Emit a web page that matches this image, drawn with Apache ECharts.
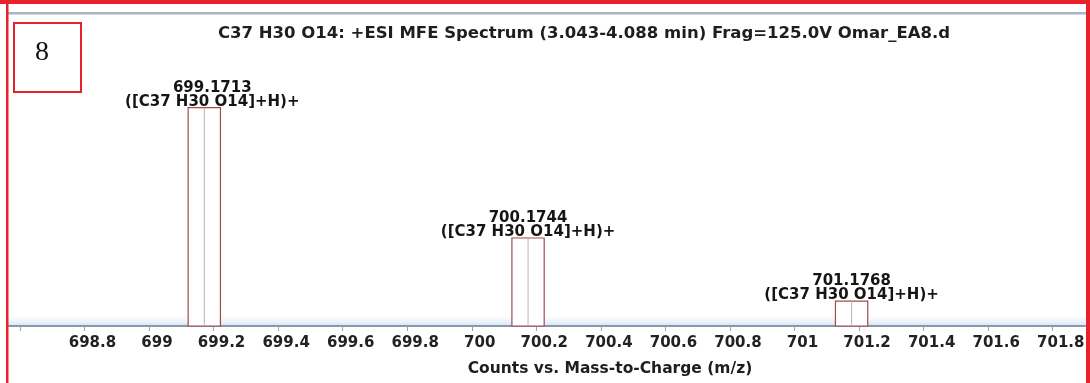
<!DOCTYPE html>
<html>
<head>
<meta charset="utf-8">
<title>C37 H30 O14 spectrum</title>
<script src="https://cdn.jsdelivr.net/npm/echarts@6.0.0/dist/echarts.min.js"></script>
<style>
html, body { margin: 0; padding: 0; background: #fff; }
#chart { width: 1090px; height: 383px; }
</style>
</head>
<body>
<div id="chart"></div>
<script>
// 峰数据 (m/z, 相对强度)
var peakMz = [699.1713, 700.1744, 701.1768];
var peakCounts = [100, 40.3, 11.4];
var peakIons = ['([C37 H30 O14]+H)+', '([C37 H30 O14]+H)+', '([C37 H30 O14]+H)+'];
// 刻度
var tickValues = [698.6, 698.8, 699, 699.2, 699.4, 699.6, 699.8, 700, 700.2, 700.4, 700.6, 700.8, 701, 701.2, 701.4, 701.6, 701.8];
var tickLabels = [698.8, 699, 699.2, 699.4, 699.6, 699.8, 700, 700.2, 700.4, 700.6, 700.8, 701, 701.2, 701.4, 701.6, 701.8];

var titleText = 'C37 H30 O14: +ESI MFE Spectrum (3.043-4.088 min) Frag=125.0V Omar_EA8.d';
var axisTitle = 'Counts vs. Mass-to-Charge (m/z)';
var panelNo = '8';

var halfWidth = 0.05; // 峰框半宽 (m/z)
var boldFont = 'bold 15px "DejaVu Sans"';

var seriesData = [];
for (var i = 0; i < peakMz.length; i++) {
    seriesData.push([peakMz[i], peakCounts[i], i]);
}

function renderPeak(params, api) {
    var x = api.value(0);
    var y = api.value(1);
    var idx = api.value(2);
    var tl = api.coord([x - halfWidth, y]);
    var br = api.coord([x + halfWidth, 0]);
    var c = api.coord([x, y]);
    var label = peakMz[idx].toFixed(4) + '\n' + peakIons[idx];
    return {
        type: 'group',
        children: [
            {
                type: 'rect',
                shape: { x: tl[0], y: tl[1], width: br[0] - tl[0], height: br[1] - tl[1] },
                style: { fill: '#ffffff', stroke: '#a24b4d', lineWidth: 1.2 }
            },
            {
                type: 'line',
                shape: { x1: c[0], y1: c[1], x2: c[0], y2: br[1] },
                style: { stroke: '#b5b5b5', lineWidth: 1 }
            },
            {
                type: 'text',
                x: c[0] + (idx === 0 ? 8 : 0),
                y: c[1] + 1,
                style: {
                    text: label,
                    font: boldFont,
                    fill: '#151515',
                    align: 'center',
                    verticalAlign: 'bottom',
                    lineHeight: 14
                }
            }
        ]
    };
}

var myChart = echarts.init(document.getElementById('chart'));
var option = {
    backgroundColor: '#ffffff',
    animation: false,
    title: [
        {
            text: titleText,
            left: 579,
            top: 20,
            textAlign: 'center',
            textStyle: { fontFamily: 'DejaVu Sans', fontWeight: 'bold', fontSize: 16.5, color: '#1e1e1e' }
        },
        {
            text: axisTitle,
            left: 605,
            top: 356,
            textAlign: 'center',
            textStyle: { fontFamily: 'DejaVu Sans', fontWeight: 'bold', fontSize: 15.5, color: '#1e1e1e' }
        }
    ],
    grid: { left: 7, right: 5, top: 64, bottom: 57, containLabel: false },
    xAxis: {
        type: 'value',
        min: 698.56,
        max: 701.9,
        splitLine: { show: false },
        axisLine: { lineStyle: { color: '#8797b0', width: 2 } },
        axisTick: { customValues: tickValues, length: 5, lineStyle: { color: '#9aa3ae', width: 1 } },
        axisLabel: {
            customValues: tickLabels,
            margin: 10,
            padding: [0, 0, 0, 16],
            fontFamily: 'DejaVu Sans',
            fontWeight: 'bold',
            fontSize: 15,
            color: '#222222',
            formatter: function (v) { return String(Math.round(v * 10) / 10); }
        }
    },
    yAxis: { type: 'value', min: 0, max: 120, show: false },
    series: [
        {
            type: 'custom',
            renderItem: renderPeak,
            data: seriesData,
            encode: { x: 0, y: 1 },
            z: 5
        }
    ],
    graphic: [
        // 基线上方的淡蓝色带
        {
            type: 'rect', z: 0,
            shape: { x: 8, y: 315, width: 1078, height: 11 },
            style: {
                fill: new echarts.graphic.LinearGradient(0, 0, 0, 1, [
                    { offset: 0, color: 'rgba(225,236,248,0)' },
                    { offset: 1, color: 'rgba(205,222,242,0.8)' }
                ])
            }
        },
        // 顶部灰线
        { type: 'rect', z: 100, shape: { x: 8, y: 12, width: 1078, height: 2.5 }, style: { fill: '#a9b5c3' } },
        // 红色外框
        { type: 'rect', z: 100, shape: { x: 0, y: 0, width: 1090, height: 4 }, style: { fill: '#e8212b' } },
        { type: 'rect', z: 100, shape: { x: 6, y: 0, width: 2.5, height: 383 }, style: { fill: '#e8212b' } },
        { type: 'rect', z: 100, shape: { x: 1086, y: 0, width: 4, height: 383 }, style: { fill: '#e8212b' } },
        // 编号框
        { type: 'rect', z: 100, shape: { x: 14, y: 23, width: 67, height: 69 }, style: { fill: '#ffffff', stroke: '#e3222b', lineWidth: 2 } },
        {
            type: 'text', z: 101, x: 42, y: 53,
            style: { text: panelNo, font: '28px "Liberation Serif"', fill: '#111111', align: 'center', verticalAlign: 'middle' }
        }
    ]
};
myChart.setOption(option);
</script>
</body>
</html>
